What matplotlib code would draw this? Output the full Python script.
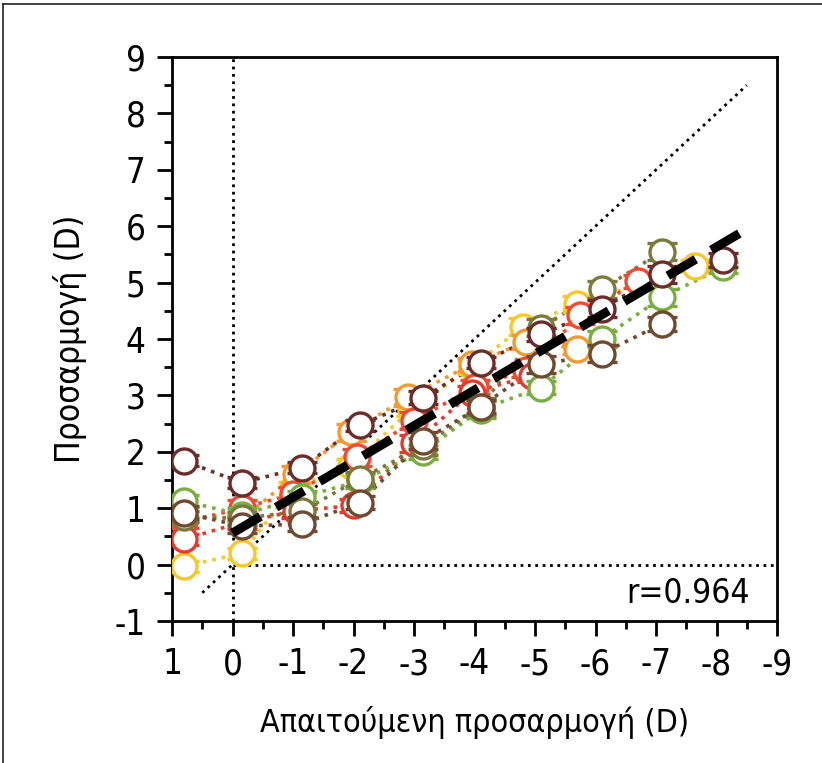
import matplotlib
matplotlib.use("Agg")
import matplotlib.pyplot as plt
from matplotlib.lines import Line2D
from matplotlib.ticker import MultipleLocator

plt.rcParams["font.family"] = ["DejaVu Sans"]
plt.rcParams["font.stretch"] = "condensed"
plt.rcParams["axes.unicode_minus"] = False

# Series data: required accommodation (x) vs measured accommodation (y), with error bars
yellow_x = [0.8, -0.15, -1.0, -1.95, -2.95, -3.95, -4.8, -5.7, -7.65]
yellow_y = [-0.03, 0.2, 1.35, 1.75, 2.75, 3.5, 4.22, 4.62, 5.3]
yellow_e = [0.1, 0.1, 0.12, 0.12, 0.12, 0.12, 0.15, 0.15, 0.1]

orange_x = [0.8, -0.15, -1.05, -1.95, -2.9, -3.95, -4.85, -5.7]
orange_y = [0.85, 0.8, 1.6, 2.35, 2.97, 3.55, 3.95, 3.83]
orange_e = [0.1, 0.12, 0.15, 0.15, 0.15, 0.12, 0.12, 0.1]

red_x = [0.8, -0.15, -1.0, -2.05, -3.0, -4.0, -4.85, -5.75, -6.7]
red_y = [0.75, 1.0, 1.25, 1.9, 2.55, 3.15, 3.45, 4.42, 5.02]
red_e = [0.1, 0.15, 0.12, 0.15, 0.15, 0.12, 0.12, 0.15, 0.12]

red2_x = [0.8, -0.15, -1.05, -2.0, -3.0, -3.95, -4.95]
red2_y = [0.45, 0.75, 0.95, 1.05, 2.15, 3.05, 3.35]
red2_e = [0.1, 0.12, 0.12, 0.12, 0.15, 0.12, 0.12]

green_x = [0.8, -0.15, -1.15, -2.1, -3.15, -4.1, -5.1, -6.1, -7.1, -8.1]
green_y = [1.13, 0.88, 1.2, 1.48, 2.0, 2.75, 3.14, 4.0, 4.74, 5.27]
green_e = [0.1, 0.12, 0.1, 0.12, 0.12, 0.15, 0.12, 0.15, 0.15, 0.1]

olive_x = [0.8, -0.15, -1.15, -2.1, -3.15, -4.1, -5.1, -6.1, -7.1]
olive_y = [0.85, 0.82, 0.95, 1.52, 2.1, 2.8, 4.2, 4.88, 5.55]
olive_e = [0.1, 0.12, 0.12, 0.12, 0.15, 0.15, 0.15, 0.15, 0.15]

brown_x = [0.8, -0.15, -1.15, -2.1, -3.15, -4.1, -5.1, -6.1, -7.1]
brown_y = [0.92, 0.68, 0.72, 1.1, 2.2, 2.8, 3.55, 3.74, 4.27]
brown_e = [0.12, 0.12, 0.12, 0.12, 0.15, 0.12, 0.15, 0.15, 0.12]

maroon_x = [0.8, -0.15, -1.15, -2.1, -3.15, -4.1, -5.1, -6.1, -7.1, -8.1]
maroon_y = [1.84, 1.45, 1.72, 2.47, 2.96, 3.58, 4.08, 4.54, 5.15, 5.4]
maroon_e = [0.1, 0.1, 0.1, 0.1, 0.12, 0.1, 0.12, 0.15, 0.15, 0.12]

series = [
    (yellow_x, yellow_y, yellow_e, "#f8c72a"),
    (orange_x, orange_y, orange_e, "#f29a30"),
    (red_x, red_y, red_e, "#ee4a34"),
    (red2_x, red2_y, red2_e, "#e43b2c"),
    (green_x, green_y, green_e, "#79ae40"),
    (olive_x, olive_y, olive_e, "#7b7a3c"),
    (brown_x, brown_y, brown_e, "#6f4a30"),
    (maroon_x, maroon_y, maroon_e, "#6b2c2a"),
]

# linear fit shown as dashed line
fit_intercept = 0.56
fit_slope = -0.634
fit_x = [0.0, -8.47]
r_value = 0.964

fig = plt.figure(figsize=(8.22, 7.63), dpi=100)
ax = fig.add_axes([0.2093, 0.1861, 0.736, 0.7392])

# reference lines
ax.plot([0, 0], [-1, 9], color="black", ls=":", lw=2.0, zorder=1)
ax.plot([0, -9], [0, 0], color="black", ls=":", lw=2.0, zorder=1)
ax.plot([0.5, -8.5], [-0.5, 8.5], color="black", ls=":", lw=2.0, zorder=1)

for i, (xs, ys, es, c) in enumerate(series):
    ax.plot(xs, ys, ls=":", color=c, lw=2.6, zorder=2 + i * 0.1)
    ax.errorbar(xs, ys, yerr=es, fmt="o", ms=18, mfc="white", mec=c, mew=2.4,
                ecolor=c, elinewidth=2.0, capsize=11, capthick=2.0,
                zorder=3 + i * 0.1)

fit_y = [fit_intercept + fit_slope * x for x in fit_x]
ax.plot(fit_x, fit_y, color="black", lw=6.5, dashes=(3.6, 2.0), zorder=10)

ax.text(-8.55, -0.52, f"r={r_value:.3f}", ha="right", va="center", fontsize=24)

ax.set_xlim(1, -9)
ax.set_ylim(-1, 9)
ax.xaxis.set_major_locator(MultipleLocator(1))
ax.xaxis.set_minor_locator(MultipleLocator(0.5))
ax.yaxis.set_major_locator(MultipleLocator(1))
ax.yaxis.set_minor_locator(MultipleLocator(0.5))
ax.tick_params(which="major", length=11, width=2.0, labelsize=25, pad=8)
ax.tick_params(which="minor", length=6, width=2.0)
for s in ax.spines.values():
    s.set_linewidth(2.0)

ax.set_xlabel("Απαιτούμενη προσαρμογή (D)", fontsize=23, labelpad=18)
ax.set_ylabel("Προσαρμογή (D)", fontsize=24, labelpad=20)

# outer frame (top and left edges visible)
fig.add_artist(Line2D([0.004, 1.0], [0.995, 0.995], transform=fig.transFigure,
                      color="#222222", lw=1.2))
fig.add_artist(Line2D([0.004, 0.004], [0.0, 0.995], transform=fig.transFigure,
                      color="#222222", lw=1.2))

fig.savefig("out.png", dpi=100)
